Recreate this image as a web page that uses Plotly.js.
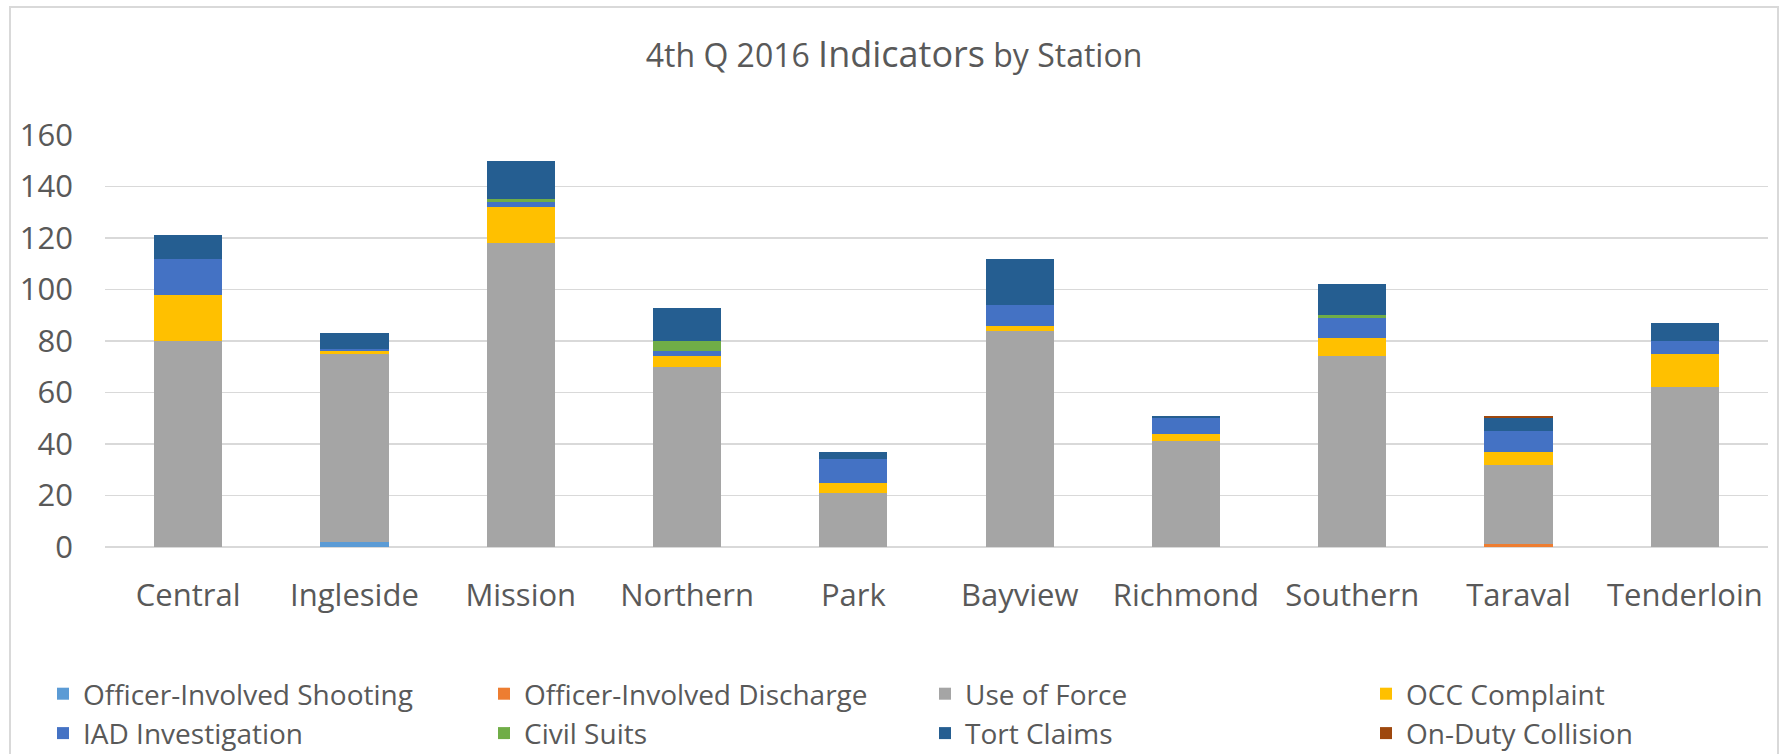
<!DOCTYPE html>
<html>
<head>
<meta charset="utf-8">
<script src="https://cdn.plot.ly/plotly-3.0.1.min.js"></script>
<style>
  html, body { margin: 0; padding: 0; background: #ffffff; }
  #wrap { position: relative; width: 1788px; height: 754px; overflow: hidden; }
  #chart { position: absolute; left: 0; top: 0; width: 1788px; height: 754px; }
  #frame { position: absolute; left: 9px; top: 6px; width: 1766px; height: 800px;
           border: 2px solid #d9d9d9; pointer-events: none; }
</style>
</head>
<body>
<div id="wrap">
  <div id="chart"></div>
  <div id="frame"></div>
</div>
<script>
// ---- data ----
const stations = ["Central", "Ingleside", "Mission", "Northern", "Park",
                  "Bayview", "Richmond", "Southern", "Taraval", "Tenderloin"];

const officerInvolvedShooting  = [0, 2, 0, 0, 0, 0, 0, 0, 0, 0];
const officerInvolvedDischarge = [0, 0, 0, 0, 0, 0, 0, 0, 1, 0];
const useOfForce               = [80, 73, 118, 70, 21, 84, 41, 74, 31, 62];
const occComplaint             = [18, 1, 14, 4, 4, 2, 3, 7, 5, 13];
const iadInvestigation         = [14, 1, 2, 2, 9, 8, 6, 8, 8, 5];
const civilSuits               = [0, 0, 1, 4, 0, 0, 0, 1, 0, 0];
const tortClaims               = [9, 6, 15, 13, 3, 18, 1, 12, 5, 7];
const onDutyCollision          = [0, 0, 0, 0, 0, 0, 0, 0, 1, 0];

const seriesNames = ["Officer-Involved Shooting", "Officer-Involved Discharge", "Use of Force",
                     "OCC Complaint", "IAD Investigation", "Civil Suits", "Tort Claims",
                     "On-Duty Collision"];
const seriesValues = [officerInvolvedShooting, officerInvolvedDischarge, useOfForce,
                      occComplaint, iadInvestigation, civilSuits, tortClaims, onDutyCollision];
const seriesColors = ["#5B9BD5", "#ED7D31", "#A5A5A5", "#FFC000",
                      "#4472C4", "#70AD47", "#255E91", "#9E480E"];

const yTicks = [0, 20, 40, 60, 80, 100, 120, 140, 160];

// ---- chart ----
const FONT = "Open Sans, Noto Sans, sans-serif";
const TEXT = "#595959";

const traces = seriesNames.map((name, i) => ({
  type: "bar",
  name: name,
  x: stations,
  y: seriesValues[i],
  marker: { color: seriesColors[i], line: { width: 0 } },
  hoverinfo: "skip"
}));

const layout = {
  width: 1788,
  height: 754,
  paper_bgcolor: "#ffffff",
  plot_bgcolor: "#ffffff",
  barmode: "stack",
  bargap: 0.59,
  margin: { l: 105, r: 20, t: 135, b: 207, autoexpand: false },
  font: { family: FONT, color: TEXT, size: 31 },
  title: {
    text: '4th Q 2016 <span style="font-size:36px">Indicators</span> by Station',
    font: { family: FONT, color: TEXT, size: 32 },
    x: 0.5, xref: "container", xanchor: "center",
    y: 1 - 56 / 754, yref: "container", yanchor: "middle"
  },
  xaxis: {
    type: "category",
    showgrid: false,
    showline: false,
    zeroline: false,
    ticks: "",
    tickfont: { family: FONT, color: TEXT, size: 31 },
    ticklabelstandoff: 27,
    fixedrange: true
  },
  yaxis: {
    range: [0, 160],
    tickvals: yTicks,
    ticktext: yTicks.map(String),
    showgrid: true,
    gridcolor: "#d9d9d9",
    gridwidth: 1.5,
    zeroline: true,
    zerolinecolor: "#d9d9d9",
    zerolinewidth: 1.5,
    showline: false,
    ticks: "",
    tickfont: { family: FONT, color: TEXT, size: 31 },
    ticklabelstandoff: 31,
    fixedrange: true
  },
  showlegend: true,
  legend: {
    orientation: "h",
    traceorder: "normal",
    xref: "paper", yref: "paper",
    x: (43 - 105) / 1663,
    y: -(669 - 547) / 412,
    xanchor: "left", yanchor: "top",
    entrywidth: 396,
    entrywidthmode: "pixels",
    font: { family: FONT, color: TEXT, size: 28 },
    bgcolor: "rgba(0,0,0,0)",
    borderwidth: 0
  }
};

Plotly.newPlot("chart", traces, layout, { displayModeBar: false, staticPlot: true });
</script>
</body>
</html>
